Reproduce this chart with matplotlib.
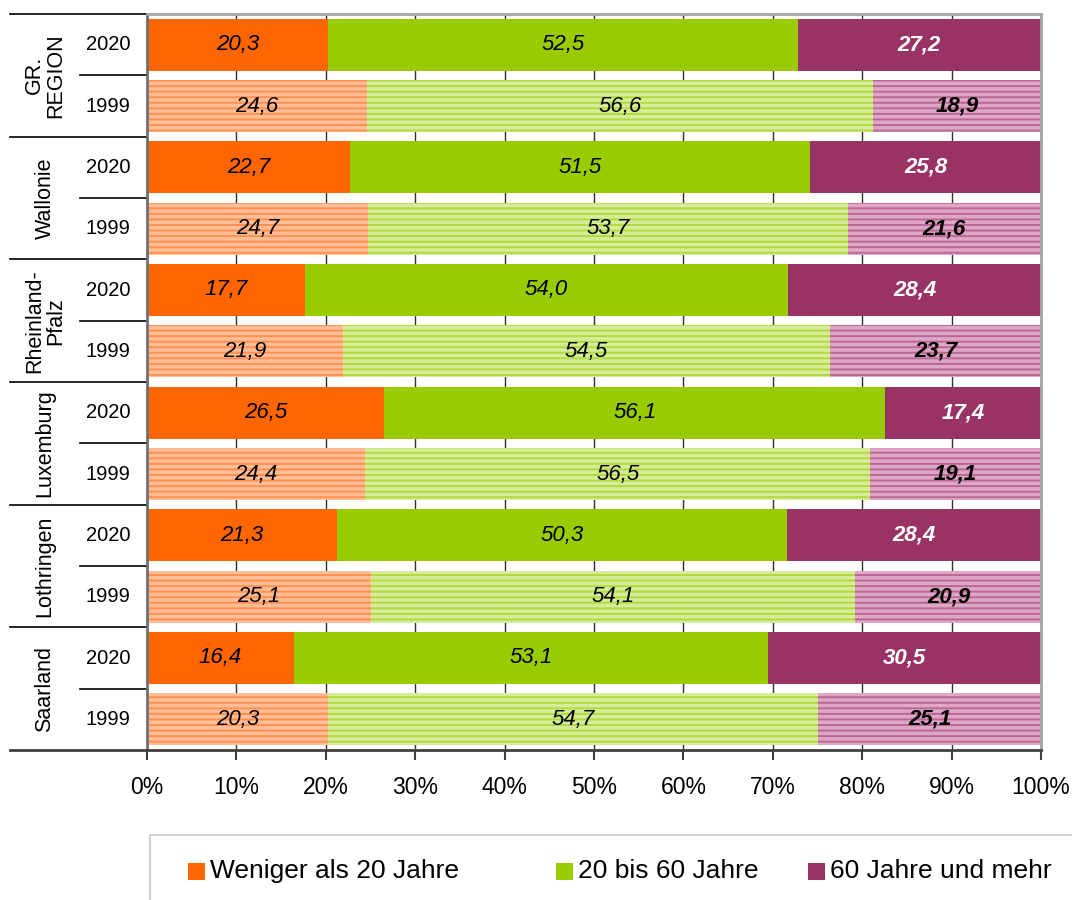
import matplotlib
matplotlib.use("Agg")
import matplotlib.pyplot as plt
from matplotlib.patches import Rectangle
import matplotlib.transforms as mtransforms

plt.rcParams['font.family'] = ['Liberation Sans', 'DejaVu Sans']
plt.rcParams['hatch.linewidth'] = 1.4

groups = ["GR.\nREGION", "Wallonie", "Rheinland-\nPfalz", "Luxemburg", "Lothringen", "Saarland"]
years = ["2020", "1999"]
series_names = ["Weniger als 20 Jahre", "20 bis 60 Jahre", "60 Jahre und mehr"]

# rows top to bottom: (group, year)
under20 = [20.3, 24.6, 22.7, 24.7, 17.7, 21.9, 26.5, 24.4, 21.3, 25.1, 16.4, 20.3]
mid20_60 = [52.5, 56.6, 51.5, 53.7, 54.0, 54.5, 56.1, 56.5, 50.3, 54.1, 53.1, 54.7]
over60 = [27.2, 18.9, 25.8, 21.6, 28.4, 23.7, 17.4, 19.1, 28.4, 20.9, 30.5, 25.1]

xticks = [0, 10, 20, 30, 40, 50, 60, 70, 80, 90, 100]

solid = ["#FF6600", "#99CC00", "#993366"]
light_face = ["#FFBE98", "#D6EC9C", "#DFA6C6"]
light_hatch = ["#FF904E", "#B4DA3A", "#B86894"]

fig = plt.figure(figsize=(10.72, 9.0), dpi=100)
ax = fig.add_axes([147/1072, 150/900, (1041-147)/1072, (750-14)/900])

n = len(under20)
ypos = list(range(n))
data = [under20, mid20_60, over60]
bh = 0.85

left = [0.0]*n
for s in range(3):
    vals = data[s]
    for i in range(n):
        is2020 = (i % 2 == 0)
        if is2020:
            ax.barh(ypos[i], vals[i], left=left[i], height=bh, color=solid[s],
                    linewidth=0, zorder=2)
        else:
            ax.barh(ypos[i], vals[i], left=left[i], height=bh, facecolor=light_face[s],
                    edgecolor=light_hatch[s], hatch='---', linewidth=0, zorder=2)
        cx = left[i] + vals[i]/2
        lab = f"{vals[i]:.1f}".replace('.', ',')
        if s < 2:
            ax.text(cx, ypos[i], lab, ha='center', va='center', fontsize=16,
                    style='italic', color='black', zorder=3)
        else:
            ax.text(cx, ypos[i], lab, ha='center', va='center', fontsize=16,
                    style='italic', fontweight='bold',
                    color='white' if is2020 else 'black', zorder=3)
    left = [left[i] + vals[i] for i in range(n)]

ax.set_xlim(0, 100)
ax.set_ylim(n - 0.5, -0.5)
ax.set_xticks(xticks)
ax.set_xticklabels([f"{t}%" for t in xticks], fontsize=16.5)
ax.set_yticks([])
ax.set_axisbelow(True)
ax.xaxis.grid(True, color='#303030', linewidth=1.0, zorder=0)
ax.tick_params(axis='x', direction='out', length=7, width=1.5, color='#404040', pad=12)

for side in ['top', 'right']:
    ax.spines[side].set_color('#A6A6A6')
    ax.spines[side].set_linewidth(2)
ax.spines['left'].set_color('#707070')
ax.spines['left'].set_linewidth(2)
ax.spines['bottom'].set_color('#404040')
ax.spines['bottom'].set_linewidth(2)

# left-hand labels and separators
trans = mtransforms.blended_transform_factory(ax.transAxes, ax.transData)
x_grp_line = (10 - 147) / 894
x_yr_line = (80 - 147) / 894
x_grp_txt = (45 - 147) / 894
x_yr_txt = (108 - 147) / 894

for g in range(len(groups)):
    top = 2*g - 0.5
    ax.plot([x_grp_line, 0], [top, top], transform=trans, color='black', lw=1.2, clip_on=False)
    mid = 2*g + 0.5
    ax.plot([x_yr_line, 0], [mid, mid], transform=trans, color='black', lw=1.2, clip_on=False)
    ax.text(x_grp_txt, mid, groups[g], transform=trans, rotation=90, ha='center', va='center',
            fontsize=15.5, multialignment='center', linespacing=1.0)
    for k, yr in enumerate(years):
        ax.text(x_yr_txt, 2*g + k, yr, transform=trans, ha='center', va='center', fontsize=14.5)
bot = n - 0.5
ax.plot([x_grp_line, 0], [bot, bot], transform=trans, color='#404040', lw=2, clip_on=False)

# legend box
fig.patches.append(Rectangle((150/1072, -0.05), 1.0, (900-835)/900 + 0.05,
                             transform=fig.transFigure, facecolor='none',
                             edgecolor='#C8C8C8', linewidth=1.2))
sq_x = [188, 556, 808]
sq = 17
ly = 871
for s in range(3):
    fig.patches.append(Rectangle((sq_x[s]/1072, (900-ly-sq/2)/900), sq/1072, sq/900,
                                 transform=fig.transFigure, facecolor=solid[s], edgecolor='none'))
    fig.text((sq_x[s]+sq+5)/1072, (900-ly)/900, series_names[s], ha='left', va='center',
             fontsize=19)

fig.savefig("out.png", dpi=100)
